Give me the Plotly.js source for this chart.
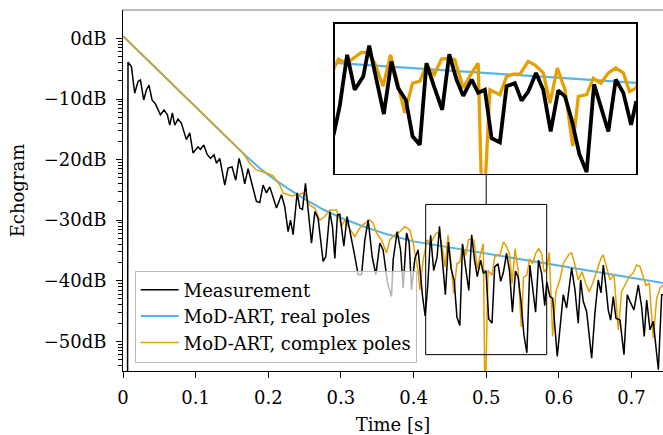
<!DOCTYPE html>
<html>
<head>
<meta charset="utf-8">
<script src="https://cdn.plot.ly/plotly-3.0.1.min.js"></script>
<style>html,body{margin:0;padding:0;overflow:hidden;background:#fff;}</style>
</head>
<body>
<div id="chart" style="width:663px;height:435px;"></div>
<script>
// ---- Data (time in s, level in dB) ----
const measT = [0.006,0.0069,0.0116,0.0161,0.0207,0.024,0.0285,0.0322,0.0358,0.04,0.0446,0.0515,0.0565,0.0611,0.0643,0.068,0.0712,0.0758,0.0804,0.0873,0.0919,0.0964,0.1033,0.1066,0.1112,0.1157,0.1204,0.1253,0.1287,0.1332,0.1401,0.1446,0.1501,0.1552,0.1598,0.1639,0.1676,0.1722,0.1837,0.1883,0.1928,0.1975,0.2021,0.2066,0.2113,0.2182,0.2227,0.2273,0.2306,0.2342,0.2397,0.2434,0.2471,0.2512,0.2548,0.2595,0.2641,0.2686,0.2755,0.2792,0.2847,0.2884,0.2916,0.2953,0.2985,0.304,0.3085,0.3146,0.3192,0.3237,0.3284,0.3329,0.3375,0.343,0.3481,0.3536,0.3581,0.3642,0.3697,0.3719,0.3774,0.3821,0.3857,0.3904,0.394,0.3972,0.4018,0.4063,0.4124,0.416,0.4194,0.4235,0.4277,0.4324,0.4357,0.4397,0.4438,0.448,0.4517,0.456,0.4597,0.4637,0.4674,0.4715,0.4761,0.48,0.484,0.4877,0.4924,0.496,0.4997,0.5034,0.508,0.5117,0.5163,0.52,0.5237,0.528,0.532,0.5361,0.5403,0.544,0.5477,0.552,0.556,0.5601,0.5638,0.568,0.5721,0.5763,0.5806,0.5834,0.5877,0.5915,0.5978,0.6025,0.6061,0.6107,0.6176,0.6222,0.6267,0.63,0.6336,0.6383,0.6452,0.6497,0.6543,0.658,0.6612,0.6649,0.668,0.6713,0.6749,0.6786,0.6842,0.6897,0.6942,0.6979,0.7034,0.7094,0.714,0.7176,0.7209,0.7255,0.73,0.737,0.7416,0.7434];
const measDb = [-80,-3.9,-4.65,-9.05,-7.1,-6.85,-10.15,-8.5,-7.7,-10.15,-10.8,-12.6,-11.8,-12.6,-14.3,-12.3,-14.3,-13.3,-14.0,-16.7,-15.6,-18.9,-17.9,-18.3,-17.6,-19.1,-19.8,-19.2,-20.6,-19.8,-24.2,-21.4,-21.2,-23.4,-19.8,-21.7,-24.0,-21.5,-26.9,-27.1,-24.2,-25.5,-24.5,-26.1,-28.0,-25.8,-27.8,-31.9,-30.0,-32.4,-25.5,-28.0,-28.2,-23.9,-27.8,-33.8,-28.6,-29.7,-36.8,-36.0,-28.6,-31.1,-36.3,-29.1,-29.0,-34.3,-29.4,-33.0,-36.0,-39.0,-39.0,-33.3,-29.95,-36.0,-39.0,-33.8,-34.9,-40.4,-42.6,-36.55,-31.9,-34.9,-41.2,-32.1,-33.8,-41.5,-36.3,-34.9,-42.6,-45.8,-41.0,-32.5,-38.3,-36.1,-31.0,-36.6,-42.3,-33.6,-38.0,-40.0,-46.0,-47.4,-33.9,-37.7,-41.6,-32.4,-36.6,-39.3,-36.6,-38.8,-38.3,-46.3,-47.0,-37.7,-37.2,-40.1,-38.6,-35.5,-38.3,-45.2,-38.4,-39.4,-43.2,-49.0,-51.9,-37.4,-41.0,-45.2,-36.6,-38.8,-44.1,-40.2,-42.6,-42.9,-52.5,-46.2,-42.3,-44.5,-37.9,-41.5,-47.0,-39.85,-43.4,-45.1,-52.8,-45.3,-39.85,-42.0,-37.4,-41.0,-44.8,-46.5,-42.6,-46.2,-46.5,-52.2,-42.3,-43.4,-44.8,-40.7,-44.3,-49.2,-43.2,-48.1,-46.7,-54.7,-42.3,-42.3];

const realT = [0,0.05,0.1,0.15,0.17,0.19,0.21,0.23,0.25,0.275,0.3,0.33,0.36,0.4,0.45,0.5,0.55,0.6,0.65,0.7,0.75];
const realDb = [0.4,-5.45,-11.3,-17.1,-19.5,-21.6,-23.4,-25.0,-26.5,-28.2,-29.6,-31.0,-32.2,-33.5,-34.5,-35.5,-36.5,-37.5,-38.5,-39.5,-40.5];

const cplxT = [0,0.05,0.1,0.15,0.165,0.1745,0.1837,0.1975,0.2066,0.2158,0.2204,0.232,0.241,0.25,0.257,0.264,0.271,0.2778,0.2847,0.294,0.3008,0.3054,0.3146,0.3192,0.326,0.333,0.3398,0.3444,0.349,0.3559,0.3628,0.3673,0.3742,0.3811,0.388,0.3949,0.3995,0.4063,0.4087,0.4132,0.4187,0.4231,0.4268,0.4314,0.4351,0.4388,0.4434,0.4475,0.4508,0.4554,0.4597,0.4637,0.4674,0.4717,0.4757,0.4794,0.4831,0.4877,0.4924,0.496,0.4985,0.5025,0.508,0.5117,0.5154,0.5191,0.5237,0.5274,0.532,0.5357,0.5398,0.544,0.5483,0.5514,0.556,0.5597,0.5638,0.568,0.5721,0.5763,0.5797,0.5834,0.5868,0.5915,0.596,0.6015,0.6061,0.6143,0.6176,0.6222,0.6267,0.632,0.637,0.6419,0.6466,0.652,0.658,0.6612,0.6658,0.6704,0.6759,0.6818,0.6865,0.6911,0.697,0.702,0.7071,0.7117,0.7163,0.72,0.7245,0.73,0.7347,0.7393,0.7434];
const cplxDb = [0.4,-5.45,-11.3,-17.1,-18.9,-20.6,-21.7,-22.2,-22.7,-24.2,-25.5,-26.0,-25.8,-25.5,-27.5,-28.0,-30.0,-29.4,-28.3,-28.3,-31.0,-30.0,-31.9,-32.7,-31.3,-30.5,-29.95,-30.5,-32.1,-33.25,-35.4,-33.25,-32.4,-31.9,-31.05,-31.6,-33.8,-38.5,-41.5,-36.55,-33.25,-33.9,-33.1,-32.1,-32.1,-33.9,-37.7,-32.5,-36.4,-42.1,-37.2,-36.9,-34.2,-35.8,-33.2,-33.1,-33.3,-38.0,-35.5,-33.9,-62,-38.3,-39.1,-36.1,-35.7,-35.7,-33.6,-34.2,-35.5,-40.5,-34.7,-38.3,-47.6,-39.4,-39.1,-36.4,-37.2,-35.5,-34.7,-35.5,-38.6,-38.0,-35.3,-49.2,-41.8,-39.85,-37.1,-35.6,-35.4,-37.4,-39.85,-38.5,-40.5,-41.8,-40.4,-38.5,-36.3,-35.7,-37.9,-39.85,-39.0,-48.1,-41.8,-40.7,-39.3,-38.8,-37.4,-37.65,-39.6,-40.8,-40.4,-49.5,-42.9,-41.2,-40.7];

const xTickVals = [0,0.1,0.2,0.3,0.4,0.5,0.6,0.7];
const xTickText = ["0","0.1","0.2","0.3","0.4","0.5","0.6","0.7"];
const yTickVals = [0,-10,-20,-30,-40,-50];
const yTickText = ["0dB","\u221210dB","\u221220dB","\u221230dB","\u221240dB","\u221250dB"];
const names = ["Measurement","MoD-ART, real poles","MoD-ART, complex poles"];

// ---- layout constants ----
const xRange = [0, 0.7434];
const yRange = [-54.9, 4.7];
const zoomX = [0.4167, 0.5833];
const zoomY = [-52.2, -27.4];
const insetXDom = [0.3923, 0.95];
const insetYDom = [0.5463, 0.9613];
const cBlack = "#000000", cBlue = "#56B4E9", cOrange = "#E69F00";
const FONT = "DejaVu Serif";
const FS = 18;

// minor ticks at log positions (10*log10(k/10)) below each major tick
const minorVals = [];
yTickVals.forEach(d => { for (let k = 2; k <= 9; k++) { const v = d + 10*Math.log10(k/10); if (v > yRange[0]) minorVals.push(v); } });

const traces = [
  {x: realT, y: realDb, name: names[1], mode: "lines", line: {color: cBlue, width: 2}, legendrank: 2},
  {x: cplxT, y: cplxDb, name: names[2], mode: "lines", line: {color: cOrange, width: 1.5}, legendrank: 3},
  {x: measT, y: measDb, name: names[0], mode: "lines", line: {color: cBlack, width: 1.5}, legendrank: 1},
  {x: realT, y: realDb, xaxis: "x2", yaxis: "y2", mode: "lines", showlegend: false, line: {color: cBlue, width: 2.2}},
  {x: cplxT, y: cplxDb, xaxis: "x2", yaxis: "y2", mode: "lines", showlegend: false, line: {color: cOrange, width: 3.3}},
  {x: measT, y: measDb, xaxis: "x2", yaxis: "y2", mode: "lines", showlegend: false, line: {color: cBlack, width: 3.8}}
];

const yPaper = v => (v - yRange[0]) / (yRange[1] - yRange[0]);

const layout = {
  width: 663, height: 435,
  margin: {l: 123, r: 0, t: 10, b: 64},
  paper_bgcolor: "#fff", plot_bgcolor: "#fff",
  font: {family: FONT, size: FS, color: "#000"},
  showlegend: true,
  legend: {x: 0.0217, y: 0.0235, xanchor: "left", yanchor: "bottom", itemwidth: 38,
    bgcolor: "rgba(255,255,255,0.7)", bordercolor: "#bbbbbb", borderwidth: 1,
    font: {family: FONT, size: FS, color: "#000"}},
  xaxis: {range: xRange, domain: [0, 1], tickmode: "array", tickvals: xTickVals, ticktext: xTickText,
    ticks: "outside", ticklen: 6, tickwidth: 1, tickcolor: "#000", showline: true, linecolor: "#000", linewidth: 1,
    showgrid: false, zeroline: false, tickfont: {family: FONT, size: FS}, ticklabelstandoff: 4,
    title: {text: "Time [s]", font: {family: FONT, size: FS}, standoff: 14}},
  yaxis: {range: yRange, domain: [0, 1], tickmode: "array", tickvals: yTickVals, ticktext: yTickText,
    ticks: "outside", ticklen: 6, tickwidth: 1, tickcolor: "#000", showline: true, linecolor: "#000", linewidth: 1,
    showgrid: false, zeroline: false, tickfont: {family: FONT, size: FS}, ticklabelstandoff: 6,
    minor: {tickmode: "array", tickvals: minorVals, ticks: "outside", ticklen: 4, tickcolor: "#000", tickwidth: 1, showgrid: false},
    title: {text: "Echogram", font: {family: FONT, size: FS}, standoff: 14}},
  xaxis2: {domain: insetXDom, anchor: "y2", range: zoomX, showline: true, mirror: true, linecolor: "#000", linewidth: 1.5,
    showticklabels: false, ticks: "", showgrid: false, zeroline: false, fixedrange: true},
  yaxis2: {domain: insetYDom, anchor: "x2", range: zoomY, showline: true, mirror: true, linecolor: "#000", linewidth: 1.5,
    showticklabels: false, ticks: "", showgrid: false, zeroline: false, fixedrange: true},
  shapes: [
    {type: "line", xref: "paper", yref: "paper", x0: 0, x1: 1, y0: 1, y1: 1, line: {color: "#777", width: 1}},
    {type: "rect", xref: "x", yref: "y", x0: zoomX[0], x1: zoomX[1], y0: zoomY[0], y1: zoomY[1], line: {color: "#000", width: 1}},
    {type: "line", xref: "x", yref: "paper", x0: (zoomX[0]+zoomX[1])/2, x1: (zoomX[0]+zoomX[1])/2,
      y0: yPaper(zoomY[1]), y1: insetYDom[0], line: {color: "#000", width: 1}}
  ]
};

Plotly.newPlot("chart", traces, layout, {displayModeBar: false, staticPlot: true});
</script>
</body>
</html>
